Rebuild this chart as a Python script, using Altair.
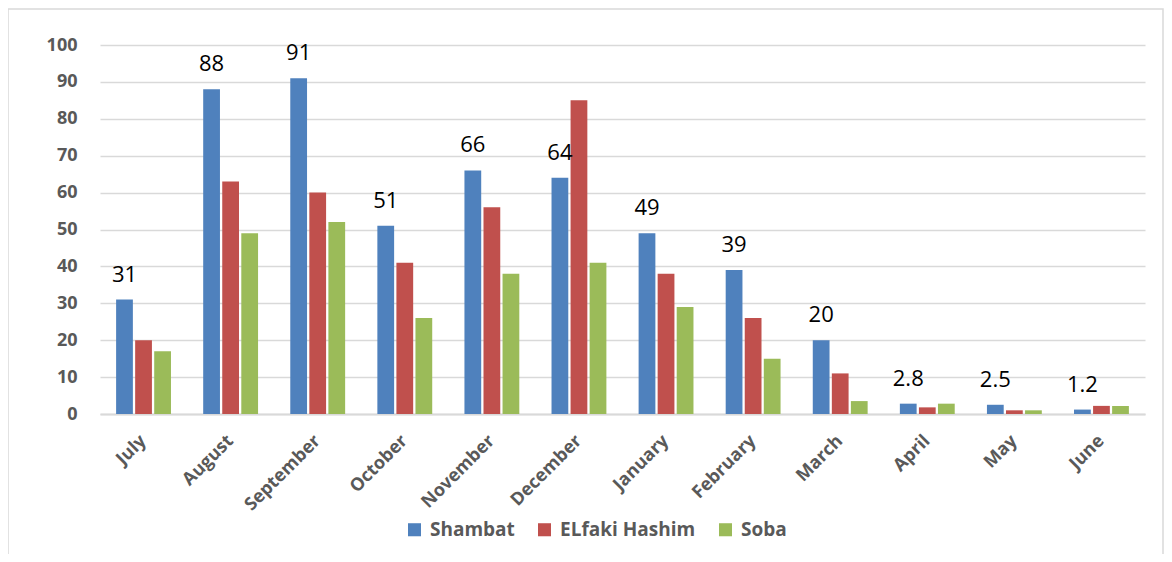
import altair as alt
import pandas as pd

months = ["July", "August", "September", "October", "November", "December",
          "January", "February", "March", "April", "May", "June"]
series = ["Shambat", "ELfaki Hashim", "Soba"]
shambat = [31, 88, 91, 51, 66, 64, 49, 39, 20, 2.8, 2.5, 1.2]
elfaki = [20, 63, 60, 41, 56, 85, 38, 26, 11, 1.8, 1.0, 2.2]
soba = [17, 49, 52, 26, 38, 41, 29, 15, 3.5, 2.8, 1.0, 2.2]
shambat_labels = ["31", "88", "91", "51", "66", "64", "49", "39", "20", "2.8", "2.5", "1.2"]
colors = ["#4F81BD", "#C0504D", "#9BBB59"]

rows = []
for i, m in enumerate(months):
    for s, vals in zip(series, [shambat, elfaki, soba]):
        rows.append({"month": m, "series": s, "value": vals[i],
                     "label": shambat_labels[i] if s == "Shambat" else ""})
df = pd.DataFrame(rows)

W, H = 1045, 369

x = alt.X("month:N", sort=months, title=None,
          scale=alt.Scale(paddingInner=0.37, paddingOuter=0.185),
          axis=alt.Axis(labelAngle=-45, labelAlign="right", labelBaseline="middle",
                        labelFont="Open Sans", labelFontSize=18, labelFontWeight="bold",
                        labelColor="#595959", labelPadding=24, ticks=False,
                        domainColor="#d9d9d9", domainWidth=2))
xo = alt.XOffset("series:N", sort=series, scale=alt.Scale(paddingInner=0.12))
y = alt.Y("value:Q", title=None,
          scale=alt.Scale(domain=[0, 100], nice=False),
          axis=alt.Axis(values=list(range(0, 101, 10)), labelFont="Open Sans",
                        labelFontSize=18, labelFontWeight="bold", labelColor="#595959",
                        labelPadding=23, domain=False, ticks=False,
                        gridColor="#d9d9d9", gridWidth=1.5))

bars = alt.Chart(df).mark_bar().encode(
    x=x, xOffset=xo, y=y,
    color=alt.Color("series:N", sort=series,
                    scale=alt.Scale(domain=series, range=colors),
                    legend=alt.Legend(title=None, orient="none", direction="horizontal",
                                      legendX=305, legendY=475, symbolType="square",
                                      symbolSize=170, symbolStrokeWidth=0,
                                      labelFont="Open Sans", labelFontSize=19,
                                      labelFontWeight="bold", labelColor="#595959",
                                      columnPadding=20, labelOffset=6)),
)

labels = alt.Chart(df).transform_filter(alt.datum.series == "Shambat").mark_text(
    baseline="alphabetic", dy=-18, fontSize=22, font="Open Sans", color="#000000"
).encode(x=x, xOffset=xo, y=y, text="label:N")

border = alt.Chart(pd.DataFrame({"k": [0]})).mark_rect(
    fill=None, stroke="#d9d9d9", strokeWidth=1.5
).encode(x=alt.value(-92), x2=alt.value(1063), y=alt.value(-36), y2=alt.value(530))

chart = alt.layer(border, bars, labels).properties(
    width=W, height=H,
    autosize=alt.AutoSizeParams(type="none"),
    padding={"left": 92, "top": 37, "right": 19, "bottom": 140},
).configure_view(stroke=None)

chart.save("out.html", embed_options={"renderer": "svg", "actions": False})
